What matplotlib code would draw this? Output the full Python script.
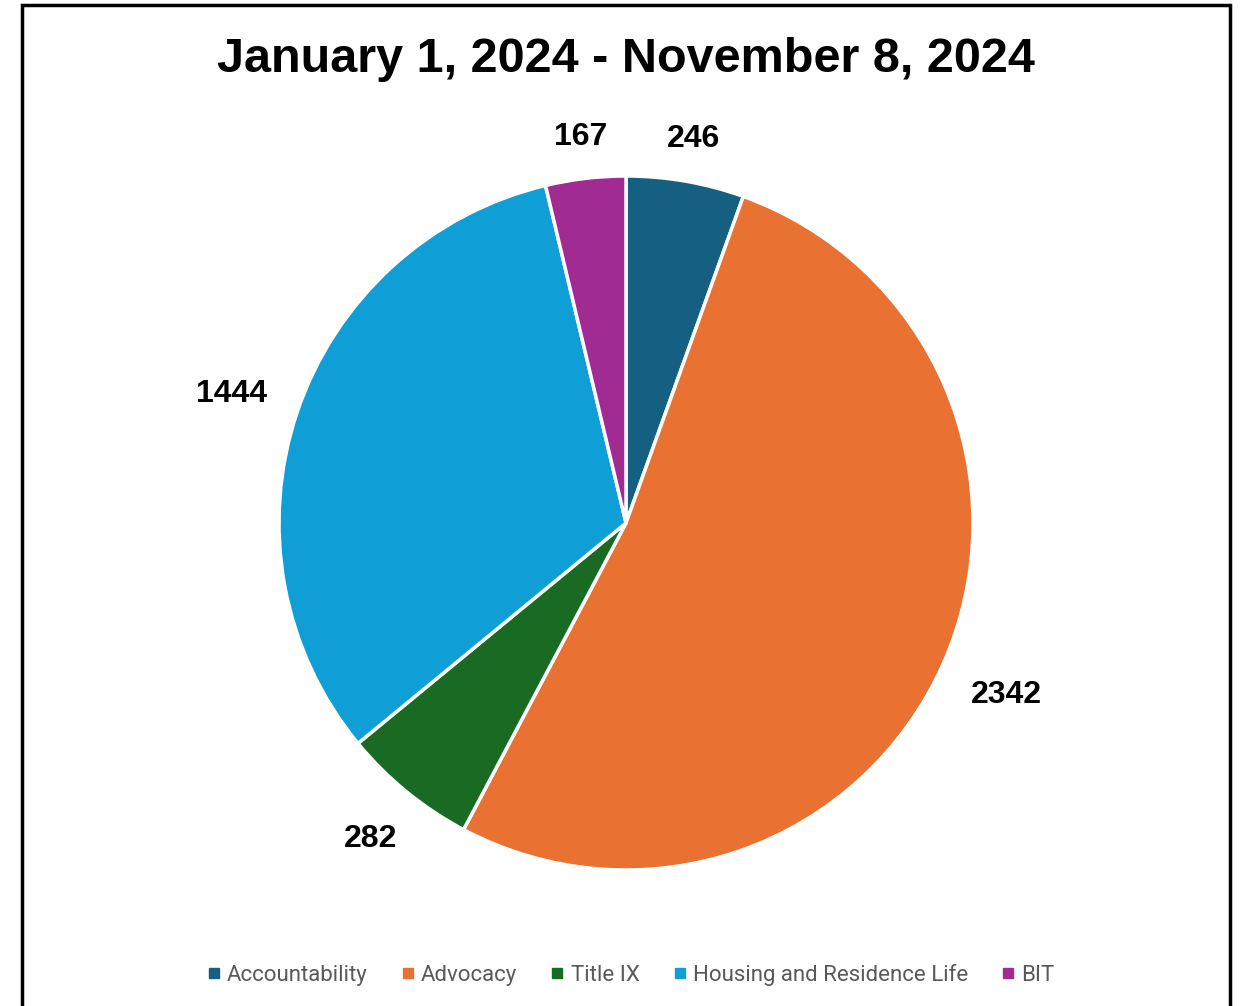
import numpy as np
import matplotlib.pyplot as plt
from matplotlib.lines import Line2D
from matplotlib.patches import Rectangle

categories = ['Accountability', 'Advocacy', 'Title IX', 'Housing and Residence Life', 'BIT']
values = [246, 2342, 282, 1444, 167]
colors = ['#156082', '#e97132', '#196b24', '#0f9ed5', '#a02b93']
title = 'January 1, 2024 - November 8, 2024'

fig = plt.figure(figsize=(12.41, 10.06), dpi=100)

# cadre noir autour du graphique
fig.patches.append(Rectangle((22 / 1241, -0.01), (1230 - 22) / 1241, (1006 - 5) / 1006 + 0.01,
                             transform=fig.transFigure, fill=False, edgecolor='black', linewidth=2.5))

# axe carré centré sur le camembert
cx, cy, r = 626, 523, 347
ax = fig.add_axes([(cx - r) / 1241, 1 - (cy + r) / 1006, 2 * r / 1241, 2 * r / 1006])
wedges, texts = ax.pie(values, colors=colors, startangle=90, counterclock=False,
                       labels=[str(v) for v in values], labeldistance=1.15,
                       wedgeprops=dict(edgecolor='white', linewidth=2.5),
                       textprops=dict(fontsize=23, fontweight='bold', family='Liberation Sans'))
ax.set_xlim(-1, 1)
ax.set_ylim(-1, 1)

# étiquettes à l'extérieur, à distance constante du bord
renderer = fig.canvas.get_renderer()
gap = 33
for w, t in zip(wedges, texts):
    t.set_ha('center')
    t.set_va('center_baseline')
    ang = np.deg2rad((w.theta1 + w.theta2) / 2)
    bb = t.get_window_extent(renderer)
    half = abs(np.cos(ang)) * bb.width / 2 + abs(np.sin(ang)) * bb.height * 0.3
    d = 1 + (gap + half) / r
    t.set_position((d * np.cos(ang), d * np.sin(ang)))

fig.text(626 / 1241, 1 - 60 / 1006, title, ha='center', va='center',
         fontsize=35, fontweight='bold', family='Liberation Sans')

handles = [Line2D([], [], marker='s', linestyle='', markersize=7, color=c) for c in colors]
fig.legend(handles, categories, loc='center', bbox_to_anchor=(631 / 1241, 1 - 975 / 1006),
           ncol=5, frameon=False, handlelength=0.6, handletextpad=0.3,
           columnspacing=1.5, labelcolor='#595959', prop=dict(family='Roboto', size=16))

fig.savefig('out.png', dpi=100)
